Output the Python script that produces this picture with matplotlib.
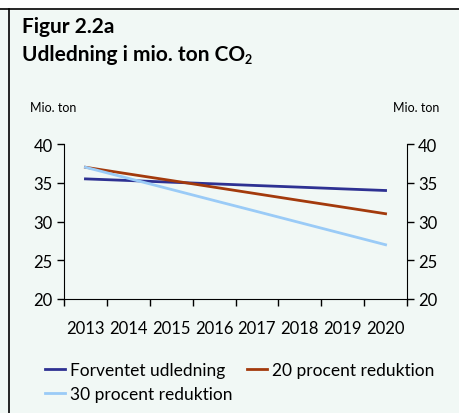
import numpy as np
import matplotlib.pyplot as plt
from matplotlib.lines import Line2D

plt.rcParams['font.family'] = ['Lato', 'DejaVu Sans']

years = ['2013', '2014', '2015', '2016', '2017', '2018', '2019', '2020']
forventet = [35.5, 35.29, 35.07, 34.86, 34.64, 34.43, 34.21, 34.0]
reduktion20 = [37.0, 36.14, 35.29, 34.43, 33.57, 32.71, 31.86, 31.0]
reduktion30 = [37.0, 35.57, 34.14, 32.71, 31.29, 29.86, 28.43, 27.0]

labels = ['Forventet udledning', '20 procent reduktion', '30 procent reduktion']
colors = ['#2E3192', '#A33A0C', '#9ACBF7']

bg = '#F1F8F5'
fig = plt.figure(figsize=(4.59, 4.14), dpi=100, facecolor=bg)

# frame lines of the figure box
fig.add_artist(Line2D([0, 1], [1 - 10 / 414, 1 - 10 / 414], color='black', lw=1.2))
fig.add_artist(Line2D([9 / 459, 9 / 459], [0, 1 - 10 / 414], color='black', lw=1.2))
fig.patches.append(plt.Rectangle((0, 1 - 10 / 414), 1, 10 / 414, transform=fig.transFigure,
                                 color='white', zorder=-1))

fig.text(22 / 459, 1 - 33 / 414, 'Figur 2.2a', fontsize=15, fontweight='bold')
t2 = fig.text(22 / 459, 1 - 61 / 414, 'Udledning i mio. ton CO', fontsize=15, fontweight='bold')
fig.canvas.draw()
bb = t2.get_window_extent()
fig.text((bb.x1 - 1) / 459, 1 - 64 / 414, '2', fontsize=9, fontweight='bold')

ax = fig.add_axes([64 / 459, 1 - 300 / 414, (407 - 64) / 459, 155 / 414])
ax.set_facecolor(bg)
x = np.arange(len(years))
for vals, c, lab in zip([forventet, reduktion20, reduktion30], colors, labels):
    ax.plot(x, vals, color=c, lw=2.0, label=lab)

ax.set_xlim(-0.5, len(years) - 0.5)
ax.set_ylim(20, 40)
ax.set_yticks([20, 25, 30, 35, 40])
ax.set_xticks(x)
ax.set_xticklabels(years)
ax.set_xticks(np.arange(-0.5, len(years)), minor=True)
ax.tick_params(axis='x', which='major', length=0, labelsize=12, pad=15)
ax.tick_params(axis='x', which='minor', length=5, width=1)
ax.tick_params(axis='y', length=5, width=1, labelsize=12, pad=3)
ax.spines['top'].set_visible(False)
ax.spines['right'].set_visible(False)

ax2 = ax.twinx()
ax2.set_ylim(20, 40)
ax2.set_yticks([20, 25, 30, 35, 40])
ax2.tick_params(axis='y', length=5, width=1, labelsize=12, pad=3)
for s in ['top', 'left', 'bottom']:
    ax2.spines[s].set_visible(False)

fig.text(30 / 459, 1 - 112 / 414, 'Mio. ton', fontsize=9)
fig.text(439 / 459, 1 - 112 / 414, 'Mio. ton', fontsize=9, ha='right')

h, l = ax.get_legend_handles_labels()
order = [0, 2, 1]
fig.legend([h[i] for i in order], [l[i] for i in order], ncol=2, frameon=False,
           loc='upper left', bbox_to_anchor=(45 / 459, 1 - 363 / 414), fontsize=12.5,
           handlelength=1.15, handletextpad=0.3, columnspacing=0.8, labelspacing=0.45,
           borderpad=0, borderaxespad=0)

fig.savefig('out.png', dpi=100, facecolor=bg)
